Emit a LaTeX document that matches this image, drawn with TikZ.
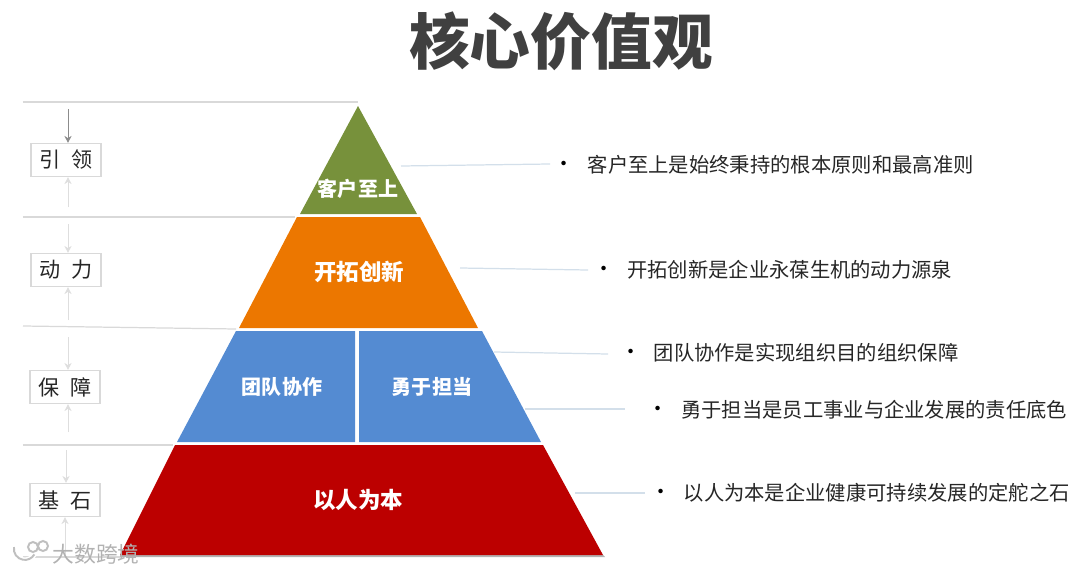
\documentclass[tikz,border=0pt]{standalone}
\usepackage{fontspec}
\setmainfont{Noto Sans CJK SC}
\usetikzlibrary{arrows.meta,positioning,calc}
\definecolor{TierOlive}{HTML}{77913B}
\definecolor{TierOrange}{HTML}{EC7700}
\definecolor{TierBlue}{HTML}{548BD2}
\definecolor{TierRed}{HTML}{BC0000}
\definecolor{TitleGrey}{HTML}{404040}
\definecolor{RuleGrey}{HTML}{D9D9D9}
\definecolor{LeadBlue}{HTML}{D3DFEA}
\tikzset{tierlab/.style={text=white,font=\fontsize{5.7pt}{7pt}\selectfont\bfseries,inner sep=0},tierlabbig/.style={tierlab,font=\fontsize{6.4pt}{8pt}\selectfont\bfseries},
note/.style={anchor=west,inner sep=0,text=black!85,font=\fontsize{5.78pt}{7pt}\selectfont},dotmark/.style={inner sep=0,text=black,font=\fontsize{6pt}{6pt}\selectfont},
sidebox/.style={draw=RuleGrey,line width=.3pt,minimum width=.7cm,minimum height=.33cm,inner sep=0,text=black!85,font=\fontsize{6pt}{7pt}\selectfont},
rulel/.style={RuleGrey,line width=.35pt},lead/.style={LeadBlue,line width=.35pt},
arr/.style={-{Stealth[length=2pt,width=2pt]},line width=.28pt,black!13},arrdark/.style={arr,black!45}}
\begin{document}
\begin{tikzpicture}[x=1cm,y=1cm]
\useasboundingbox (0,0) rectangle (10.8,5.74);
\node[inner sep=0,text=TitleGrey,font=\fontsize{17.3pt}{20pt}\selectfont\bfseries] (title) at (5.61,5.33) {核心价值观};
% pyramid
\fill[black!30] (1.2,0.17) -- (6.05,0.17) -- (6.03,0.19) -- (1.2,0.19) -- cycle;
\fill[TierOlive] (3.58,4.68) -- (4.17,3.6) -- (3.0,3.6) -- cycle;
\fill[TierOrange] (2.97,3.57) -- (4.2,3.57) -- (4.78,2.46) -- (2.39,2.46) -- cycle;
\fill[TierBlue] (2.36,2.43) -- (3.55,2.43) -- (3.55,1.32) -- (1.77,1.32) -- cycle;
\fill[TierBlue] (3.59,2.43) -- (4.82,2.43) -- (5.41,1.32) -- (3.59,1.32) -- cycle;
\fill[TierRed] (1.75,1.29) -- (5.43,1.29) -- (6.03,0.19) -- (1.2,0.19) -- cycle;
\node[tierlab] (customer) at (3.58,3.85) {客户至上};
\node[tierlabbig] (pioneer) at (3.59,3.02) {开拓创新};
\node[tierlab] (team) at (2.82,1.87) {团队协作};
\node[tierlab] (duty) at (4.32,1.87) {勇于担当};
\node[tierlabbig] (people) at (3.58,0.74) {以人为本};
% side boxes
\node[sidebox] (lead) at (0.66,4.14) {引\hspace{.55em}领};
\node[sidebox] (drive) at (0.66,3.04) {动\hspace{.55em}力};
\node[sidebox] (guard) at (0.65,1.87) {保\hspace{.55em}障};
\node[sidebox] (base) at (0.65,0.74) {基\hspace{.55em}石};
% rules
\draw[rulel] (0.23,4.72) coordinate (ruleA) -- (3.58,4.72);
\draw[rulel] (0.23,3.57) coordinate (ruleB) -- (2.95,3.57);
\draw[rulel] (0.23,2.48) coordinate (ruleC) -- (2.36,2.45);
\draw[rulel] (0.23,1.29) coordinate (ruleD) -- (1.73,1.29);
\draw[rulel] (0.23,0.17) coordinate (ruleE) -- (1.2,0.17);
% arrows
\coordinate (aa) at (0.68,4.65); \coordinate (ab) at (0.68,3.56+.11);
\coordinate (ba) at (0.68,3.5); \coordinate (bb) at (0.68,2.54);
\coordinate (ca) at (0.68,2.37); \coordinate (cb) at (0.68,1.42);
\coordinate (da) at (0.66,1.24); \coordinate (db) at (0.65,0.17);
\draw[arrdark] (aa) -- (lead.north-|aa);
\draw[arr] (ab) -- (lead.south-|ab);
\draw[arr] (ba) -- (drive.north-|ba);
\draw[arr] (bb) -- (drive.south-|bb);
\draw[arr] (ca) -- (guard.north-|ca);
\draw[arr] (cb) -- (guard.south-|cb);
\draw[arr] (da) -- (base.north-|da);
\draw[arr] (db) -- (base.south-|db);
% notes
\node[dotmark] (dotA) at (5.64,4.08) {•};
\node[note] (noteA) at (5.87,4.09) {客户至上是始终秉持的根本原则和最高准则};
\node[dotmark] (dotB) at (6.04,3.03) {•};
\node[note] (noteB) at (6.265,3.04) {开拓创新是企业永葆生机的动力源泉};
\node[dotmark] (dotC) at (6.31,2.2) {•};
\node[note] (noteC) at (6.53,2.21) {团队协作是实现组织目的组织保障};
\node[dotmark] (dotD) at (6.58,1.63) {•};
\node[note] (noteD) at (6.805,1.64) {勇于担当是员工事业与企业发展的责任底色};
\node[dotmark] (dotE) at (6.61,0.8) {•};
\node[note] (noteE) at (6.83,0.81) {以人为本是企业健康可持续发展的定舵之石};
% leaders
\coordinate (leadA) at (5.5,4.1); \coordinate (leadB) at (5.88,3.04);
\coordinate (leadC) at (6.08,2.2); \coordinate (leadD) at (6.25,1.65); \coordinate (leadE) at (6.45,0.81);
\draw[lead] (4.01,4.08) -- (leadA);
\draw[lead] (4.6,3.06) -- (leadB);
\draw[lead] (4.94,2.22) -- (leadC);
\draw[lead] (5.25,1.65) -- (leadD);
\draw[lead] (5.75,0.81) -- (leadE);
% watermark
\draw[white,line width=1.4pt] (0.14,0.27) arc (170:330:.11) (0.33,0.27) circle (.05) (0.43,0.28) circle (.05);
\draw[black!25,line width=.55pt] (0.14,0.27) arc (170:330:.11) (0.33,0.27) circle (.05) (0.43,0.28) circle (.05);
\node[inner sep=0,text=black!30,font=\fontsize{6.2pt}{7pt}\selectfont] (mark) at (0.96,0.2) {大数跨境};
\end{tikzpicture}
\end{document}
